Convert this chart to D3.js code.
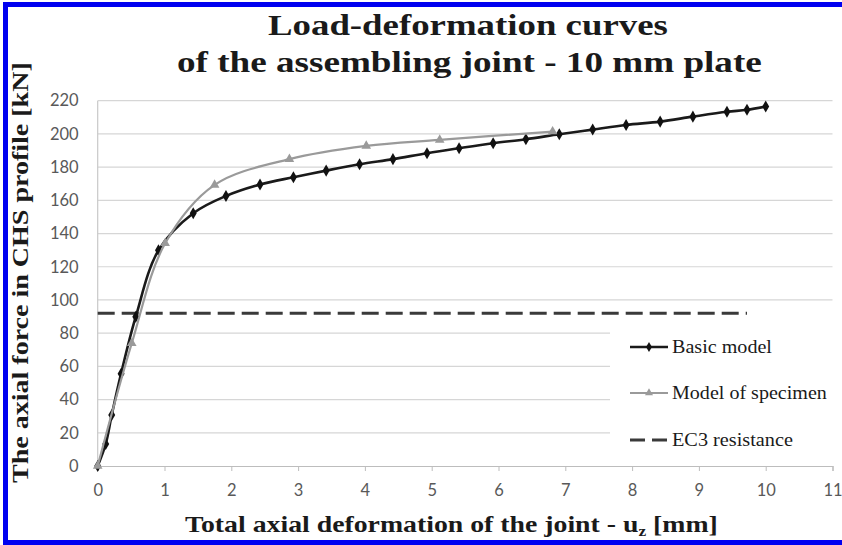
<!DOCTYPE html>
<html><head><meta charset="utf-8">
<script src="https://cdn.jsdelivr.net/npm/d3@7"></script>
<style>html,body{margin:0;padding:0;background:#fff;}svg{display:block;}
.serif{font-family:"Liberation Serif","Times New Roman",Tinos,Times,serif;}</style>
</head><body>
<svg id="chart" width="842" height="545"></svg>
<script>
// ---- data ----
const basicX = [0, 0.12, 0.21, 0.35, 0.57, 0.91, 1.43, 1.92, 2.43, 2.93, 3.42, 3.92, 4.42, 4.93, 5.41, 5.92, 6.41, 6.91, 7.41, 7.91, 8.42, 8.91, 9.42, 9.72, 10.0];
const basicY = [0, 13.3, 30.7, 55.6, 89.9, 129.9, 152.2, 162.6, 169.5, 173.9, 177.9, 181.7, 184.8, 188.4, 191.4, 194.4, 196.8, 199.8, 202.6, 205.4, 207.4, 210.4, 213.3, 214.5, 216.5];
const specX = [0, 0.51, 1.01, 1.75, 2.87, 4.02, 5.12, 6.81];
const specY = [0, 73.9, 134.1, 169.3, 184.8, 192.8, 196.4, 201.4];
const ec3X = [0, 9.72];
const ec3Y = [92, 92];
const xTicks = [0,1,2,3,4,5,6,7,8,9,10,11];
const yTicks = [0,20,40,60,80,100,120,140,160,180,200,220];
const seriesNames = ["Basic model", "Model of specimen", "EC3 resistance"];
const titleLines = ["Load-deformation curves", "of the assembling joint - 10 mm plate"];
const yTitle = "The axial force in CHS profile [kN]";

const svg = d3.select("#chart");
const x = d3.scaleLinear().domain([0, 11]).range([97.7, 832.5]);
const y = d3.scaleLinear().domain([0, 220]).range([466, 100.7]);

// blue frame
svg.append("rect").attr("x",3).attr("y",2).attr("width",839).attr("height",5).attr("fill","#0000f0");
svg.append("rect").attr("x",3).attr("y",2).attr("width",5).attr("height",543).attr("fill","#0000f0");
svg.append("rect").attr("x",3).attr("y",540).attr("width",839).attr("height",5).attr("fill","#0000f0");

// gridlines
const grid = svg.append("g");
grid.selectAll("line").data(yTicks.filter(d=>d>0)).join("line")
  .attr("x1", x(0)).attr("x2", x(11)).attr("y1", d=>y(d)).attr("y2", d=>y(d))
  .attr("stroke","#d6d6d6").attr("stroke-width",1.2);
svg.append("line").attr("x1",x(0)).attr("x2",x(0)).attr("y1",y(220)).attr("y2",y(0))
  .attr("stroke","#c8c8c8").attr("stroke-width",1.2);

// x axis
const xAxis = d3.axisBottom(x).tickValues(xTicks).tickSize(5).tickPadding(13).tickFormat(d3.format("d"));
const xg = svg.append("g").attr("transform",`translate(0,${y(0)})`).call(xAxis);
xg.select(".domain").attr("stroke","#bdbdbd").attr("stroke-width",1.2);
xg.selectAll(".tick line").attr("stroke","#bdbdbd");
xg.selectAll(".tick text").attr("font-family","Lato, sans-serif").attr("font-size",16.5).attr("fill","#595959");

// y axis labels
const yAxis = d3.axisLeft(y).tickValues(yTicks).tickSize(0).tickPadding(19);
const yg = svg.append("g").attr("transform",`translate(${x(0)},0)`).call(yAxis);
yg.select(".domain").remove();
yg.selectAll(".tick text").attr("font-family","Lato, sans-serif").attr("font-size",16.5).attr("fill","#595959");

// legend background
svg.append("rect").attr("x",610).attr("y",318).attr("width",224).attr("height",144).attr("fill","#fff");

// EC3 line
const line = d3.line().x((d)=>x(d[0])).y(d=>y(d[1]));
svg.append("path").datum(ec3X.map((v,i)=>[v, ec3Y[i]]))
  .attr("d", line).attr("fill","none").attr("stroke","#3a3a3a").attr("stroke-width",3)
  .attr("stroke-dasharray","17,7");

const smooth = d3.line().x(d=>x(d[0])).y(d=>y(d[1])).curve(d3.curveCatmullRom.alpha(0.5));
const basic = basicX.map((v,i)=>[v, basicY[i]]);
const spec = specX.map((v,i)=>[v, specY[i]]);

const diamond = d3.symbol().type(d3.symbolDiamond).size(42);
const tri = d3.symbol().type(d3.symbolTriangle).size(40);

svg.append("path").datum(basic).attr("d", smooth).attr("fill","none").attr("stroke","#1a1a1a").attr("stroke-width",2.6);
svg.append("g").selectAll("path").data(basic).join("path")
  .attr("d", diamond).attr("transform", d=>`translate(${x(d[0])},${y(d[1])})`).attr("fill","#111");

svg.append("path").datum(spec).attr("d", smooth).attr("fill","none").attr("stroke","#9a9a9a").attr("stroke-width",2.2);
svg.append("g").selectAll("path").data(spec).join("path")
  .attr("d", tri).attr("transform", d=>`translate(${x(d[0])},${y(d[1])})`).attr("fill","#9a9a9a");

// legend
const legY = [347, 393, 440];
const lg = svg.append("g");
lg.append("line").attr("x1",630).attr("x2",668).attr("y1",legY[0]).attr("y2",legY[0]).attr("stroke","#1a1a1a").attr("stroke-width",2.4);
lg.append("path").attr("d", d3.symbol().type(d3.symbolDiamond).size(30)).attr("transform",`translate(649,${legY[0]})`).attr("fill","#111");
lg.append("line").attr("x1",630).attr("x2",668).attr("y1",legY[1]).attr("y2",legY[1]).attr("stroke","#9a9a9a").attr("stroke-width",2);
lg.append("path").attr("d", d3.symbol().type(d3.symbolTriangle).size(28)).attr("transform",`translate(649,${legY[1]})`).attr("fill","#9a9a9a");
lg.append("line").attr("x1",630).attr("x2",668).attr("y1",legY[2]).attr("y2",legY[2]).attr("stroke","#3a3a3a").attr("stroke-width",3).attr("stroke-dasharray","15,7");

function fitText(parent, str, px, py, width, size, weight, anchor, rot) {
  const t = parent.append("text").text(str).attr("class","serif")
    .attr("font-size", size).attr("font-weight", weight).attr("fill","#1a1a1a")
    .attr("text-anchor", anchor);
  const w = t.node().getComputedTextLength();
  const k = width / w;
  t.attr("transform", `translate(${px},${py})${rot ? " rotate(-90)" : ""} scale(${k},1)`);
  return t;
}

const legWidths = [100, 155, 121];
seriesNames.forEach((n,i)=>{
  fitText(lg, n, 672, legY[i]+6, legWidths[i], 18, "normal", "start", false);
});

fitText(svg, titleLines[0], 268, 35, 400, 30, "bold", "start", false);
fitText(svg, titleLines[1], 177, 72, 585, 30, "bold", "start", false);
fitText(svg, yTitle, 28, 483, 421, 24, "bold", "start", true);

const xt = svg.append("text").attr("class","serif")
  .attr("font-size", 24).attr("font-weight","bold").attr("fill","#1a1a1a");
xt.append("tspan").text("Total axial deformation of the joint - u");
xt.append("tspan").text("z").attr("font-size",15).attr("dy",4);
xt.append("tspan").text(" [mm]").attr("dy",-4);
const bb = xt.node().getBBox();
const kx = 533 / bb.width;
xt.attr("transform", `translate(185,532) scale(${kx},1)`);
</script>
</body></html>
